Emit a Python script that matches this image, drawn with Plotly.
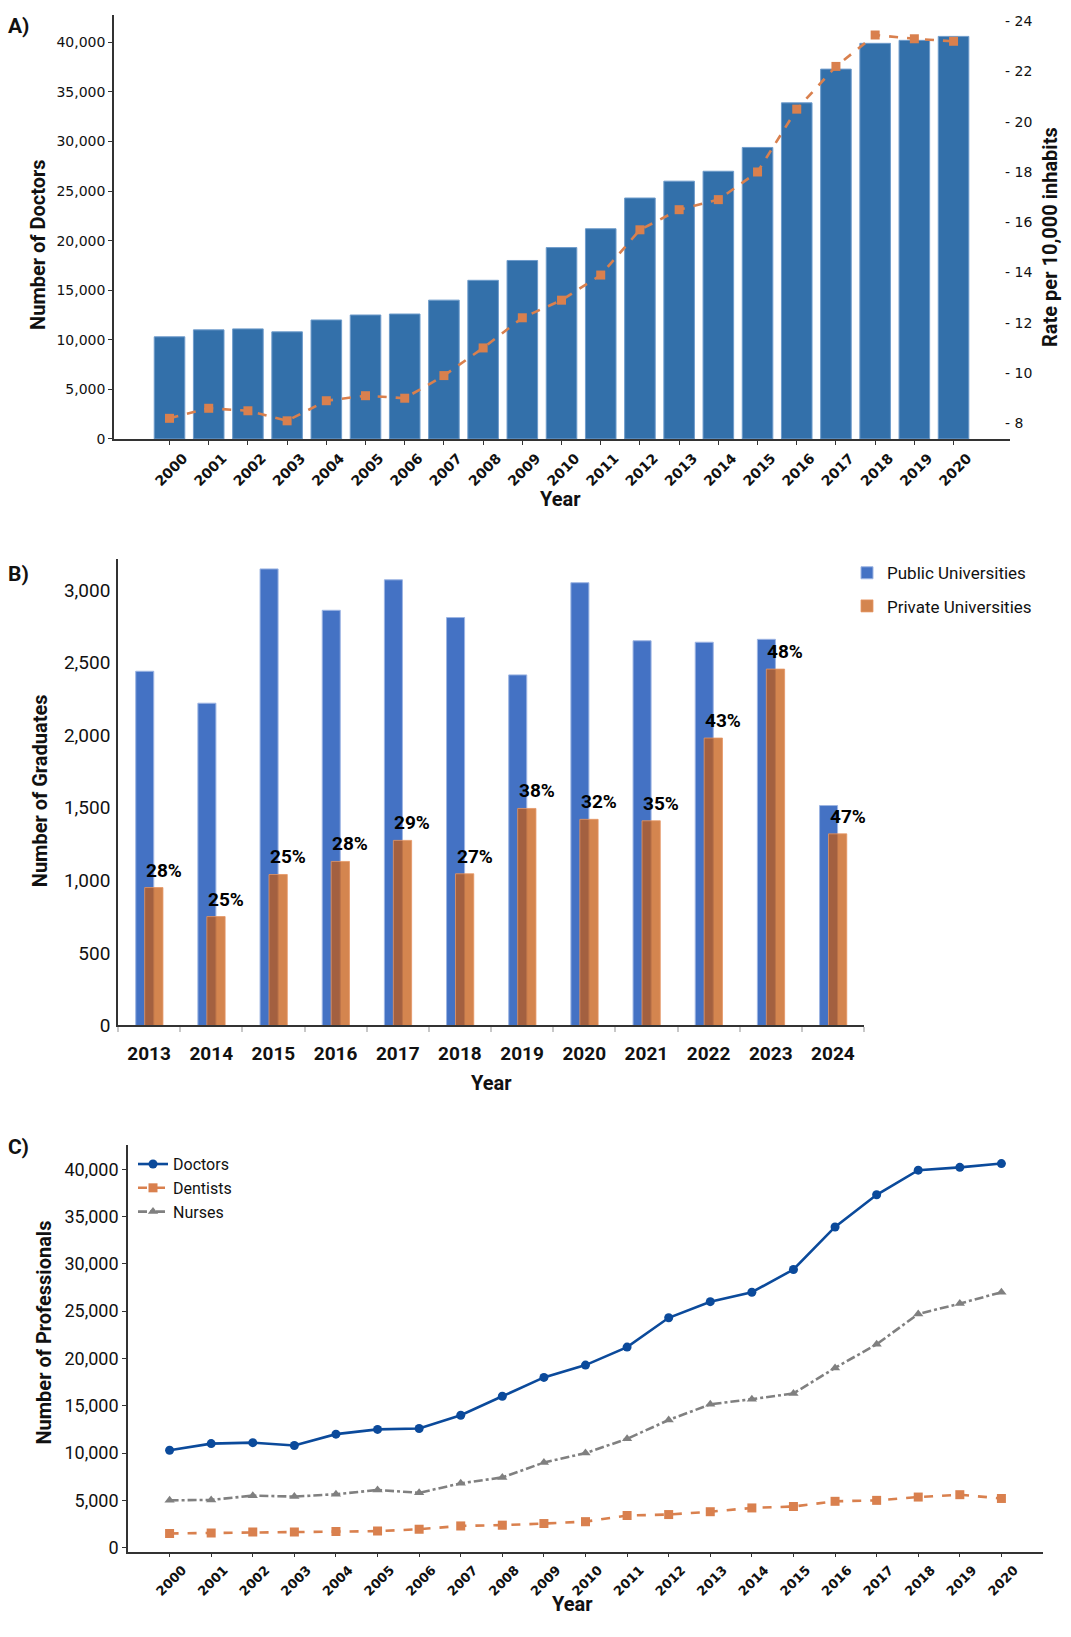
import plotly.graph_objects as go

W, H = 1071, 1637

# ---------------- data ----------------
years_a = list(range(2000, 2021))
doctors = [10300, 11000, 11100, 10800, 12000, 12500, 12600, 14000, 16000, 18000,
           19300, 21200, 24300, 26000, 27000, 29400, 33900, 37300, 39900, 40200, 40600]
rate_per_10k = [8.2, 8.6, 8.5, 8.1, 8.9, 9.1, 9.0, 9.9, 11.0, 12.2,
                12.9, 13.9, 15.7, 16.5, 16.9, 18.0, 20.5, 22.2, 23.45, 23.3, 23.2]

grad_years = ["2013", "2014", "2015", "2016", "2017", "2018", "2019", "2020",
              "2021", "2022", "2023", "2024"]
public_grads = [2440, 2220, 3145, 2860, 3070, 2810, 2415, 3050, 2650, 2640, 2660, 1515]
private_grads = [950, 750, 1040, 1130, 1275, 1045, 1495, 1420, 1410, 1980, 2455, 1320]
private_share = ["28%", "25%", "25%", "28%", "29%", "27%", "38%", "32%", "35%", "43%", "48%", "47%"]

dentists = [1500, 1560, 1650, 1650, 1700, 1750, 1950, 2300, 2380, 2550,
            2750, 3400, 3500, 3800, 4200, 4350, 4900, 5000, 5350, 5600, 5200]
nurses = [5000, 5050, 5500, 5400, 5650, 6100, 5800, 6800, 7430, 9000,
          10000, 11500, 13500, 15150, 15700, 16300, 19000, 21500, 24700, 25800, 27000]

left_ticks_a = list(range(0, 40001, 5000))
right_ticks_a = list(range(8, 25, 2))
ticks_b = list(range(0, 3001, 500))
ticks_c = list(range(0, 40001, 5000))


def px(x):
    return x / W


def py(y):
    return 1 - y / H


fig = go.Figure()

# ---------------- Panel A ----------------
fig.add_trace(go.Bar(
    x=years_a, y=doctors, width=0.78, xaxis="x", yaxis="y",
    marker=dict(color="#3370AA", line=dict(color="#6F9CCB", width=1)),
    showlegend=False, name="Doctors"))
fig.add_trace(go.Scatter(
    x=years_a, y=rate_per_10k, xaxis="x", yaxis="y2", mode="lines+markers",
    line=dict(color="#D9804E", width=2.6, dash="dash"),
    marker=dict(symbol="square", size=9, color="#D9804E"),
    showlegend=False, name="Rate"))

# ---------------- Panel B ----------------
fig.add_trace(go.Bar(
    x=grad_years, y=public_grads, xaxis="x2", yaxis="y3",
    offset=-0.215, width=0.29,
    marker=dict(color="#4472C4", line=dict(color="#9DB5E3", width=1)),
    name="Public Universities", legend="legend", legendgroup="pub"))
fig.add_trace(go.Bar(
    x=grad_years, y=private_grads, xaxis="x2", yaxis="y3",
    offset=-0.071, width=0.294,
    marker=dict(color="rgba(197,90,17,0.74)", line=dict(color="rgba(230,150,100,0.8)", width=1)),
    name="Private Universities", legend="legend", legendgroup="priv"))

# ---------------- Panel C ----------------
fig.add_trace(go.Scatter(
    x=years_a, y=doctors, xaxis="x3", yaxis="y4", mode="lines+markers",
    line=dict(color="#0B4A9B", width=2.6),
    marker=dict(symbol="circle", size=9, color="#0B4A9B"),
    name="Doctors", legend="legend2"))
fig.add_trace(go.Scatter(
    x=years_a, y=dentists, xaxis="x3", yaxis="y4", mode="lines+markers",
    line=dict(color="#D9804E", width=2.6, dash="dash"),
    marker=dict(symbol="square", size=9, color="#D9804E"),
    name="Dentists", legend="legend2"))
fig.add_trace(go.Scatter(
    x=years_a, y=nurses, xaxis="x3", yaxis="y4", mode="lines+markers",
    line=dict(color="#808080", width=2.6, dash="dashdot"),
    marker=dict(symbol="triangle-up", size=9, color="#808080"),
    name="Nurses", legend="legend2"))

axis_line = dict(showline=True, linecolor="#333333", linewidth=1.6, showgrid=False,
                 zeroline=False, mirror=False)

annotations = []
# percentage labels above the private-university bars
for i, (v, t) in enumerate(zip(private_grads, private_share)):
    annotations.append(dict(
        x=i - 0.085, y=v, xref="x2", yref="y3", text=t, showarrow=False,
        xanchor="left", yanchor="bottom", yshift=4,
        font=dict(family="Roboto", size=19, color="#000000", weight="bold")))

title_font = dict(family="Roboto", size=20, color="#111111", weight="bold")


def paper_text(text, x, y, angle=0, xanchor="center", font=title_font):
    annotations.append(dict(text=text, x=px(x), y=py(y), xref="paper", yref="paper",
                            showarrow=False, textangle=angle, xanchor=xanchor,
                            yanchor="middle", font=font))


letter_font = dict(family="Roboto", size=21, color="#111111", weight="bold")
paper_text("A)", 6, 24, xanchor="left", font=letter_font)
paper_text("B)", 6, 577, xanchor="left", font=letter_font)
paper_text("C)", 6, 1155, xanchor="left", font=letter_font)

paper_text("Number of Doctors", 38, 245, angle=-90)
paper_text("Rate per 10,000 inhabits", 1050, 237, angle=-90)
paper_text("Year", 560, 501)
paper_text("Number of Graduates", 40, 796, angle=-90)
paper_text("Year", 491, 1090)
paper_text("Number of Professionals", 44, 1342, angle=-90)
paper_text("Year", 572, 1616)

fig.update_layout(
    width=W, height=H,
    margin=dict(l=0, r=0, t=0, b=0),
    paper_bgcolor="white", plot_bgcolor="white",
    barmode="overlay",
    font=dict(family="Roboto", color="#222222"),
    annotations=annotations,
    # Panel A
    xaxis=dict(domain=[px(114), px(1010)], anchor="y", range=[1998.584, 2021.44],
               tickvals=years_a, ticktext=[str(y) for y in years_a], tickangle=-45,
               tickfont=dict(family="DejaVu Sans", size=14, color="#111111", weight="bold"),
               ticklabelshift=14,
               ticks="outside", ticklen=4, tickcolor="#333333", **axis_line),
    yaxis=dict(domain=[py(440.7), py(13)], anchor="x", range=[0, 42770],
               tickvals=left_ticks_a, tickformat=",",
               tickfont=dict(family="DejaVu Sans", size=14, color="#111111"),
               ticks="outside", ticklen=4, tickcolor="#333333", **axis_line),
    yaxis2=dict(overlaying="y", side="right", anchor="x", range=[7.38, 24.25],
                tickvals=right_ticks_a, ticktext=["- " + str(v) for v in right_ticks_a],
                tickfont=dict(family="DejaVu Sans", size=14, color="#111111"),
                ticklabelstandoff=-6,
                showline=False, showgrid=False, zeroline=False, ticks=""),
    # Panel B
    xaxis2=dict(domain=[px(118), px(864)], anchor="y3", type="category",
                range=[-0.5, 11.5], tickson="boundaries",
                ticks="outside", ticklen=5, tickcolor="#C8C8C8", tickwidth=1.5,
                tickfont=dict(family="Roboto", size=19, color="#111111", weight="bold"),
                ticklabelstandoff=10, **axis_line),
    yaxis3=dict(domain=[py(1032.3), py(562)], anchor="x2", range=[0, 3212],
                tickvals=ticks_b, tickformat=",", ticks="",
                tickfont=dict(family="Roboto", size=19, color="#111111"),
                ticklabelstandoff=2, **axis_line),
    # Panel C
    xaxis3=dict(domain=[px(128), px(1043)], anchor="y4", range=[1999, 2021],
                tickvals=years_a, ticktext=[str(y) for y in years_a], tickangle=-45,
                tickfont=dict(family="DejaVu Sans", size=13, color="#111111", weight="bold"),
                ticklabelshift=13,
                ticks="outside", ticklen=4, tickcolor="#333333", **axis_line),
    yaxis4=dict(domain=[py(1563), py(1152.7)], anchor="x3", range=[-419, 42580],
                tickvals=ticks_c, tickformat=",",
                tickfont=dict(family="Roboto", size=18, color="#111111"),
                ticks="outside", ticklen=4, tickcolor="#333333", **axis_line),
    legend=dict(x=px(847), y=py(558), xanchor="left", yanchor="top",
                font=dict(family="Roboto", size=17, color="#111111"),
                bgcolor="rgba(0,0,0,0)", traceorder="grouped", tracegroupgap=8),
    legend2=dict(x=px(133), y=py(1155), xanchor="left", yanchor="top",
                 font=dict(family="Roboto", size=16, color="#111111"),
                 bgcolor="rgba(0,0,0,0)", tracegroupgap=0),
)

fig.write_html("out.html", config={"displayModeBar": False},
               post_script="document.body.style.margin='0';")
